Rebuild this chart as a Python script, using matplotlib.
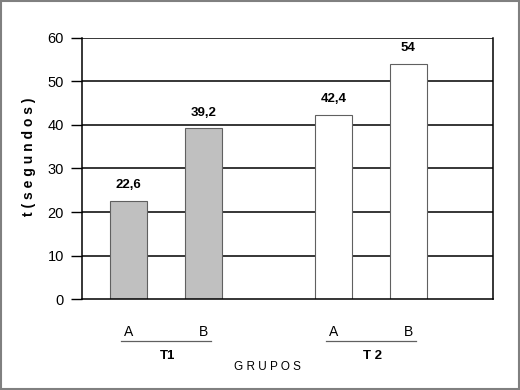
import matplotlib.pyplot as plt
from matplotlib.patches import Rectangle
import matplotlib.transforms as mtransforms

plt.rcParams['font.family'] = ['Liberation Sans', 'DejaVu Sans']

grupos = ["T1", "T 2"]
subgrupos = ["A", "B", "A", "B"]
tiempos = [22.6, 39.2, 42.4, 54]
etiquetas = ["22,6", "39,2", "42,4", "54"]
colores = ["#c0c0c0", "#c0c0c0", "white", "white"]

pos = [0, 1, 2.73, 3.73]

fig = plt.figure(figsize=(5.2, 3.9), dpi=100)
ax = fig.add_axes([0.1577, 0.2333, 0.7904, 0.6693])

for y in [10, 20, 30, 40, 50, 60]:
    ax.axhline(y, color='black', lw=1.1, zorder=0)

ax.bar(pos, tiempos, width=0.49, color=colores, edgecolor='#606060', linewidth=0.8, zorder=2)
for x, v, t in zip(pos, tiempos, etiquetas):
    ax.annotate(t, (x, v), xytext=(0, 7), textcoords='offset points',
                ha='center', va='bottom', fontsize=9.5, fontweight='bold')

ax.set_xlim(-0.62, 4.86)
ax.set_ylim(0, 60)
ax.set_yticks(range(0, 61, 10))
ax.tick_params(axis='y', length=8, width=1, direction='out', pad=5, labelsize=10.5)
ax.set_xticks(pos)
ax.set_xticklabels(subgrupos, fontsize=10)
ax.tick_params(axis='x', length=0, pad=19)
for s in ['left', 'right', 'bottom']:
    ax.spines[s].set_color('black')
    ax.spines[s].set_linewidth(1.1)
ax.spines['top'].set_visible(False)

trans = mtransforms.blended_transform_factory(ax.transData, ax.transAxes)
for i, g in enumerate(grupos):
    c = (pos[2 * i] + pos[2 * i + 1]) / 2
    ax.plot([c - 0.6, c + 0.6], [-0.161, -0.161], transform=trans, color='#606060',
            lw=0.9, clip_on=False)
    ax.text(c + 0.02, -0.218, g, transform=trans, ha='center', va='center',
            fontsize=9.5, fontweight='bold')

fig.text(0.515, 0.059, "G R U P O S", ha='center', va='center', fontsize=8.5)
fig.text(0.056, 0.597, "t ( s e g u n d o s )", rotation=90, ha='center', va='center',
         fontsize=10, fontweight='bold')

fig.patches.append(Rectangle((0.002, 0.003), 0.996, 0.994, transform=fig.transFigure,
                             fill=False, edgecolor='#808080', lw=1.5))

fig.savefig('out.png', dpi=100)
